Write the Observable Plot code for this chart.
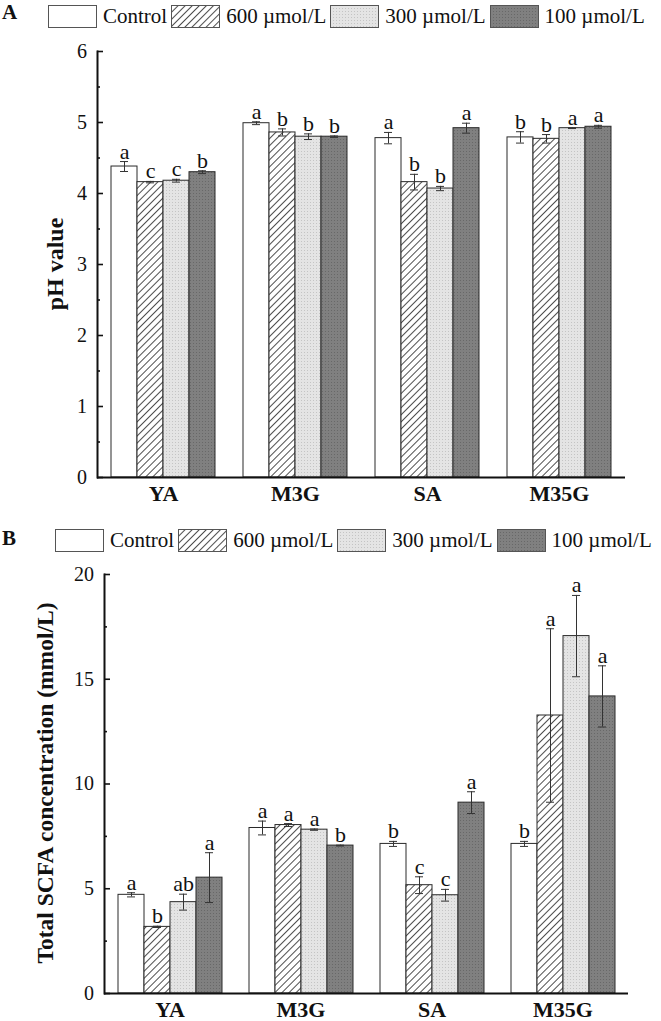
<!DOCTYPE html>
<html><head><meta charset="utf-8">
<script src="https://cdn.jsdelivr.net/npm/d3@7"></script>
<script src="https://cdn.jsdelivr.net/npm/@observablehq/plot@0.6"></script>
<style>
body{margin:0;background:#fff;}
#root{position:relative;width:661px;height:1021px;overflow:hidden;font-family:"Liberation Serif","Times New Roman",serif;color:#111;}
.panel{position:absolute;left:0;}
.letter{position:absolute;font-weight:bold;font-size:21px;line-height:21px;}
.ytitle{position:absolute;font-weight:bold;white-space:nowrap;transform:translate(-50%,-50%) rotate(-90deg);}
.legend{position:absolute;display:flex;align-items:center;font-size:21px;line-height:23px;white-space:nowrap;}
.legend .item{display:flex;align-items:center;margin-right:4px;}
.legend svg{margin-right:6px;display:block;}
</style></head><body>
<svg width="0" height="0" style="position:absolute">
<defs>
<pattern id="hatch" patternUnits="userSpaceOnUse" width="5" height="5" patternTransform="rotate(45)">
<rect width="5" height="5" fill="#fff"/>
<line x1="0.5" y1="0" x2="0.5" y2="5" stroke="#3a3a3a" stroke-width="0.9"/>
</pattern>
<pattern id="dots" patternUnits="userSpaceOnUse" width="3" height="3">
<rect width="3" height="3" fill="#e4e4e4"/>
<rect width="1" height="1" fill="#c4c4c4"/>
</pattern>
<pattern id="dark" patternUnits="userSpaceOnUse" width="3" height="3">
<rect width="3" height="3" fill="#808080"/>
<rect width="1" height="1" fill="#686868"/>
</pattern>
</defs>
</svg>
<div id="root"></div>
<script>
// ---- data ----
const categories = ["YA", "M3G", "SA", "M35G"];
const treatments = ["Control", "600 µmol/L", "300 µmol/L", "100 µmol/L"];
const fills = ["#ffffff", "url(#hatch)", "url(#dots)", "url(#dark)"];

// Panel A: pH value
const phControl = [4.38, 4.99, 4.78, 4.79];
const ph600 = [4.16, 4.86, 4.16, 4.77];
const ph300 = [4.18, 4.80, 4.07, 4.92];
const ph100 = [4.30, 4.80, 4.92, 4.94];
const phErrControl = [0.07, 0.02, 0.08, 0.08];
const phErr600 = [0.01, 0.05, 0.11, 0.06];
const phErr300 = [0.02, 0.04, 0.03, 0.005];
const phErr100 = [0.02, 0.01, 0.07, 0.02];
const phLetControl = ["a", "a", "a", "b"];
const phLet600 = ["c", "b", "b", "b"];
const phLet300 = ["c", "b", "b", "a"];
const phLet100 = ["b", "b", "a", "a"];
const phTicks = [0, 1, 2, 3, 4, 5, 6];
const phMinor = [0.5, 1.5, 2.5, 3.5, 4.5, 5.5];

// Panel B: total SCFA (mmol/L)
const scfaControl = [4.71, 7.90, 7.14, 7.14];
const scfa600 = [3.18, 8.04, 5.17, 13.27];
const scfa300 = [4.36, 7.82, 4.69, 17.06];
const scfa100 = [5.53, 7.06, 9.11, 14.18];
const scfaErrControl = [0.10, 0.33, 0.12, 0.12];
const scfaErr600 = [0.03, 0.07, 0.40, 4.14];
const scfaErr300 = [0.38, 0.03, 0.28, 1.94];
const scfaErr100 = [1.19, 0.02, 0.52, 1.46];
const scfaLetControl = ["a", "a", "b", "b"];
const scfaLet600 = ["b", "a", "c", "a"];
const scfaLet300 = ["ab", "a", "c", "a"];
const scfaLet100 = ["a", "b", "a", "a"];
const scfaTicks = [0, 5, 10, 15, 20];
const scfaMinor = [2.5, 7.5, 12.5, 17.5];

function buildRows(means, errs, letters) {
  const rows = [];
  categories.forEach((c, i) => {
    treatments.forEach((t, j) => {
      rows.push({cat: c, trt: t, mean: means[j][i], err: errs[j][i], letter: letters[j][i]});
    });
  });
  return rows;
}

const phRows = buildRows([phControl, ph600, ph300, ph100], [phErrControl, phErr600, phErr300, phErr100], [phLetControl, phLet600, phLet300, phLet100]);
const scfaRows = buildRows([scfaControl, scfa600, scfa300, scfa100], [scfaErrControl, scfaErr600, scfaErr300, scfaErr100], [scfaLetControl, scfaLet600, scfaLet300, scfaLet100]);

const serif = "'Liberation Serif', 'Times New Roman', serif";

function panel(o) {
  return Plot.plot({
    width: 661, height: o.height,
    marginLeft: o.marginLeft, marginRight: o.marginRight, marginTop: o.marginTop, marginBottom: o.marginBottom,
    style: {fontFamily: serif, fontSize: "20px", color: "#111", background: "transparent", overflow: "visible"},
    fx: {domain: categories, padding: 0, label: null},
    x: {domain: treatments, paddingInner: 0, paddingOuter: 0.5, axis: null},
    y: {domain: o.yDomain, label: null},
    color: {domain: treatments, range: fills},
    marks: [
      Plot.barY(o.rows, {fx: "cat", x: "trt", y: "mean", fill: "trt", stroke: "#2a2a2a", strokeWidth: 1}),
      Plot.ruleX(o.rows, {fx: "cat", x: "trt", y1: d => d.mean - d.err, y2: d => d.mean + d.err, stroke: "#333", strokeWidth: 1}),
      Plot.tickY(o.rows, {fx: "cat", x: "trt", y: d => d.mean + d.err, inset: 9, stroke: "#333", strokeWidth: 1}),
      Plot.tickY(o.rows, {fx: "cat", x: "trt", y: d => d.mean - d.err, inset: 9, stroke: "#333", strokeWidth: 1}),
      Plot.text(o.rows, {fx: "cat", x: "trt", y: d => d.mean + d.err, text: "letter", lineAnchor: "bottom", dy: -3, fontSize: 22, fill: "#111", fontFamily: serif}),
      Plot.ruleY([0], {stroke: "#111", strokeWidth: 2}),
      Plot.frame({anchor: "left", facetAnchor: "left", stroke: "#111", strokeWidth: 2}),
      Plot.axisY(o.ticks, {anchor: "left", tickSize: -6, tickPadding: 16.5, strokeWidth: 1.6, fontSize: 20, tickFormat: d => String(d), fontFamily: serif}),
      Plot.axisY(o.minor, {anchor: "left", tickSize: -3, tickFormat: () => "", strokeWidth: 1.6}),
      Plot.axisFx({anchor: "bottom", tickSize: 0, tickPadding: 8, fontSize: 22, fontWeight: "bold", label: null, fontFamily: serif})
    ]
  });
}

const root = d3.select("#root");

function legend(left, top) {
  const div = root.append("div").attr("class", "legend").style("left", left + "px").style("top", top + "px");
  treatments.forEach((t, i) => {
    const item = div.append("div").attr("class", "item");
    const s = item.append("svg").attr("width", 49).attr("height", 23);
    s.append("rect").attr("x", 0.5).attr("y", 0.5).attr("width", 48).attr("height", 22)
      .attr("fill", fills[i]).attr("stroke", "#555").attr("stroke-width", 1);
    item.append("span").text(t);
  });
}

function ytitle(text, cx, cy, size) {
  root.append("div").attr("class", "ytitle").style("left", cx + "px").style("top", cy + "px").style("font-size", size + "px").text(text);
}

root.append("div").attr("class", "letter").style("left", "2px").style("top", "2px").text("A");
legend(48, 5);
const pA = panel({rows: phRows, height: 490, marginTop: 17, marginBottom: 47, marginLeft: 96, marginRight: 36,
  yDomain: [0, 6], ticks: phTicks, minor: phMinor});
root.append("div").attr("class", "panel").style("top", "34px").node().appendChild(pA);
ytitle("pH value", 55, 264, 24);

root.append("div").attr("class", "letter").style("left", "2px").style("top", "528px").text("B");
legend(55, 529);
const pB = panel({rows: scfaRows, height: 465, marginTop: 18, marginBottom: 28, marginLeft: 104, marginRight: 33,
  yDomain: [0, 20], ticks: scfaTicks, minor: scfaMinor});
root.append("div").attr("class", "panel").style("top", "556px").node().appendChild(pB);
ytitle("Total SCFA concentration (mmol/L)", 45, 783, 23.5);
</script>
</body></html>
